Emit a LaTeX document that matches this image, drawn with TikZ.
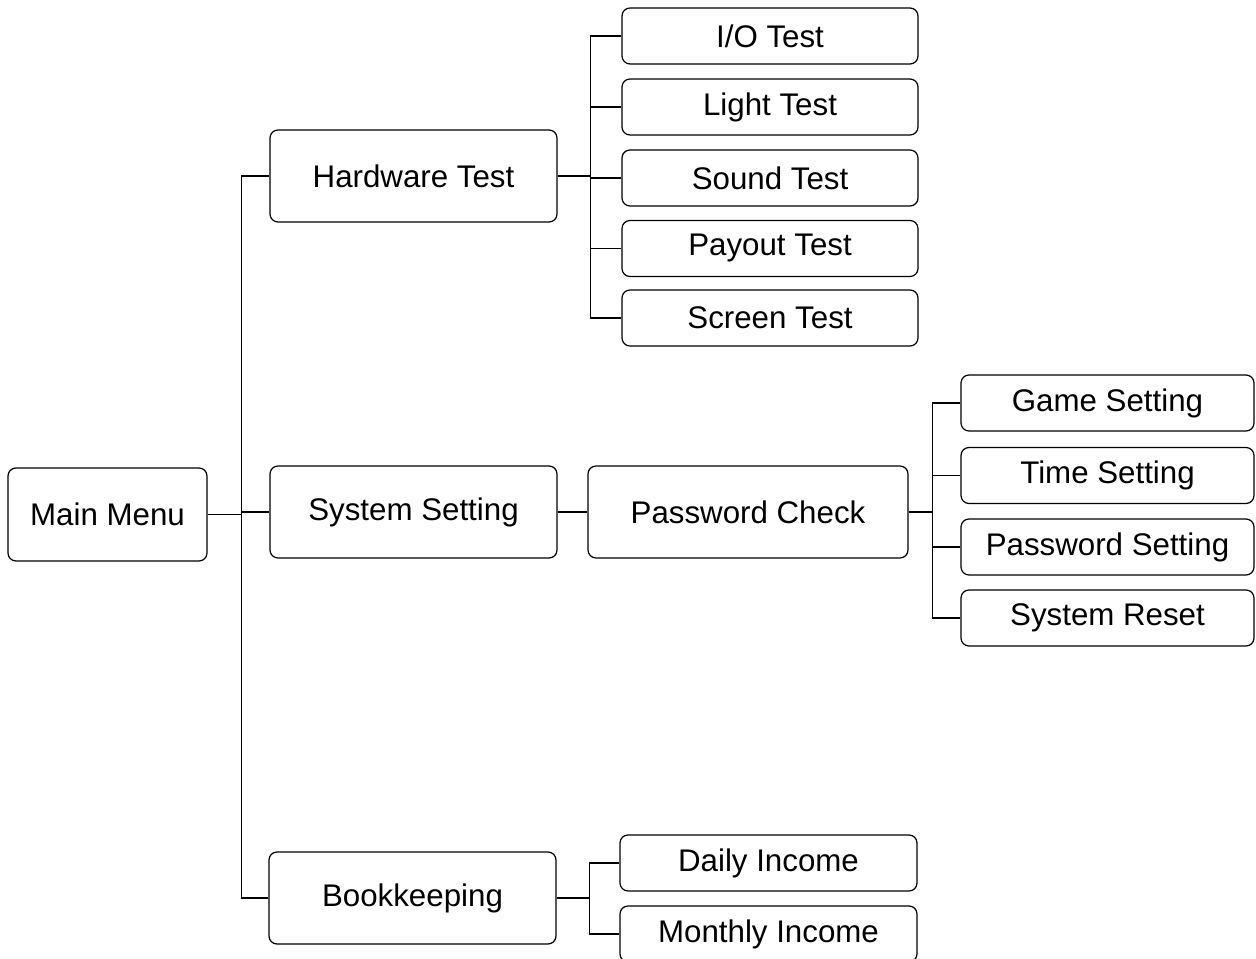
\documentclass[tikz,border=0pt]{standalone}
\usepackage{fontspec}
\setmainfont{Liberation Sans}
\usetikzlibrary{positioning}
\tikzset{menu/.style={rectangle, draw=black, line width=0.7pt, rounded corners=0.16cm,
            inner sep=0pt, align=center, font=\fontsize{17.8}{20}\selectfont,
            minimum width=5.74cm, minimum height=1.84cm},
         leaf/.style={menu, minimum width=5.92cm, minimum height=1.12cm},
         wire/.style={line width=0.7pt}}

\begin{document}
\begin{tikzpicture}
\useasboundingbox (0,0) rectangle (25.12,19.18);
% top level
 \node[menu, minimum width=3.98cm, minimum height=1.86cm] (main) at (2.15,8.89) {Main Menu};
 \node[menu] (hw)  at (8.27,15.66) {Hardware Test};
 \node[menu] (sys) at (8.27,8.94) {System Setting};
 \node[menu] (bk)  at (8.25,1.22) {Bookkeeping};
 \node[menu, minimum width=6.4cm] (pw) at (14.96,8.94) {Password Check};

% hardware tests
 \node[leaf] (io)     at (15.4,18.46) {I/O Test};
 \node[leaf] (light)  at (15.4,17.04) {Light Test};
 \node[leaf] (sound)  at (15.4,15.62) {Sound Test};
 \node[leaf] (payout) at (15.4,14.21) {Payout Test};
 \node[leaf] (screen) at (15.4,12.82) {Screen Test};

% settings
 \node[leaf, minimum width=5.86cm] (game)  at (22.15,11.12) {Game Setting};
 \node[leaf, minimum width=5.86cm] (time)  at (22.15,9.67) {Time Setting};
 \node[leaf, minimum width=5.86cm] (pwset) at (22.15,8.24) {Password Setting};
 \node[leaf, minimum width=5.86cm] (reset) at (22.15,6.82) {System Reset};

% income
 \node[leaf, minimum width=5.94cm] (daily)   at (15.37,1.92) {Daily Income};
 \node[leaf, minimum width=5.94cm] (monthly) at (15.37,0.5) {Monthly Income};

\draw[wire] (main.east) -- ++(0.68,0) coordinate (jm);
\draw[wire] (jm) |- (hw.west);
\draw[wire] (jm) |- (sys.west);
\draw[wire] (jm) |- (bk.west);
\draw[wire] (sys) -- (pw);

\draw[wire] (hw.east) -- ++(0.66,0) coordinate (jh);
\foreach \n in {io,light,sound,payout,screen}
  \draw[wire] (jh) |- (\n.west);

\draw[wire] (pw.east) -- ++(0.48,0) coordinate (jp);
\foreach \n in {game,time,pwset,reset}
  \draw[wire] (jp) |- (\n.west);

\draw[wire] (bk.east) -- ++(0.66,0) coordinate (jb);
\foreach \n in {daily,monthly}
  \draw[wire] (jb) |- (\n.west);
\end{tikzpicture}
\end{document}
